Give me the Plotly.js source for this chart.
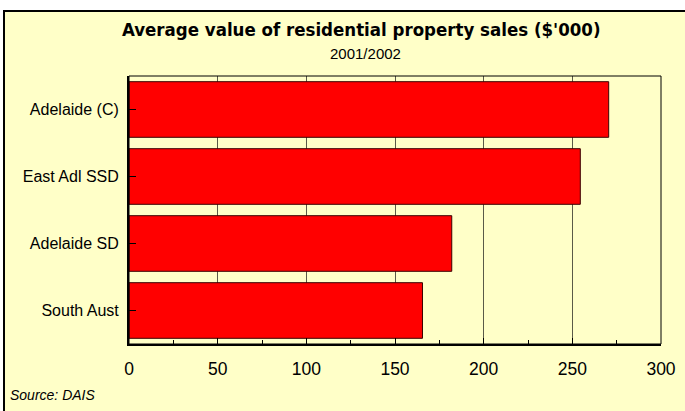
<!DOCTYPE html>
<html>
<head>
<meta charset="utf-8">
<script src="https://cdn.plot.ly/plotly-3.0.1.min.js"></script>
<style>
html,body{margin:0;padding:0;background:#ffffff;}
#wrap{position:relative;width:685px;height:411px;overflow:hidden;background:#ffffff;}
#frame{position:absolute;left:3px;top:10px;width:700px;height:420px;background:#FFFFC8;border-left:2px solid #000;border-top:2px solid #000;}
#chart{position:absolute;left:0;top:0;width:685px;height:411px;}
</style>
</head>
<body>
<div id="wrap"><div id="frame"></div><div id="chart"></div></div>
<script>
var categories = ["Adelaide (C)", "East Adl SSD", "Adelaide SD", "South Aust"];
var values = [270.5, 254.5, 182, 165.5];
var tickVals = [0, 50, 100, 150, 200, 250, 300];
var titleText = "Average value of residential property sales ($'000)";
var subtitleText = "2001/2002";
var sourceText = "Source: DAIS";

var bg = "#FFFFC8";
var font = "Liberation Sans, Arial, sans-serif";

var trace = {
  type: "bar",
  orientation: "h",
  y: categories,
  x: values,
  marker: {color: "#FF0000", line: {color: "#3a0000", width: 1}},
  hoverinfo: "x+y"
};

var layout = {
  width: 685, height: 411,
  paper_bgcolor: "rgba(0,0,0,0)",
  plot_bgcolor: bg,
  margin: {l: 129, r: 24, t: 76, b: 67, pad: 0},
  showlegend: false,
  bargap: 0.17,
  font: {family: font, size: 16, color: "#000"},
  xaxis: {
    range: [0, 300],
    tickvals: tickVals,
    ticks: "inside",
    ticklen: 6,
    tickwidth: 1,
    tickcolor: "#000",
    showline: true,
    linecolor: "#000",
    linewidth: 2,
    showgrid: true,
    gridcolor: "#5a5a48",
    gridwidth: 1,
    zeroline: false,
    ticklabelstandoff: 8,
    minor: {dtick: 25, ticks: "inside", ticklen: 4, tickcolor: "#000", showgrid: false},
    tickfont: {family: font, size: 17.5, color: "#000"},
    fixedrange: true
  },
  yaxis: {
    categoryorder: "array",
    categoryarray: categories,
    autorange: "reversed",
    ticks: "inside",
    ticklen: 7,
    tickwidth: 1,
    tickcolor: "#000",
    showline: true,
    linecolor: "#000",
    linewidth: 2,
    showgrid: false,
    zeroline: false,
    ticklabelstandoff: 5,
    tickfont: {family: font, size: 16, color: "#000"},
    fixedrange: true
  },
  shapes: [
    {type: "rect", xref: "paper", yref: "paper", x0: 0, x1: 1, y0: 0, y1: 1,
     line: {color: "#000", width: 1}, fillcolor: "rgba(0,0,0,0)", layer: "above"}
  ],
  annotations: [
    {text: "<b>" + titleText + "</b>", xref: "paper", yref: "paper",
     x: 0.437, y: 1.0, yshift: 47, xanchor: "center", yanchor: "middle", showarrow: false,
     font: {family: "DejaVu Sans Condensed, Liberation Sans Narrow, sans-serif", size: 18.5, color: "#000"}},
    {text: subtitleText, xref: "paper", yref: "paper",
     x: 0.444, y: 1.0, yshift: 23, xanchor: "center", yanchor: "middle", showarrow: false,
     font: {family: font, size: 15, color: "#000"}},
    {text: "<i>" + sourceText + "</i>", xref: "paper", yref: "paper",
     x: -0.2275, y: 0, yshift: -51, xanchor: "left", yanchor: "middle", showarrow: false,
     font: {family: font, size: 14, color: "#000"}}
  ]
};

Plotly.newPlot("chart", [trace], layout, {displayModeBar: false, staticPlot: true});
</script>
</body>
</html>
